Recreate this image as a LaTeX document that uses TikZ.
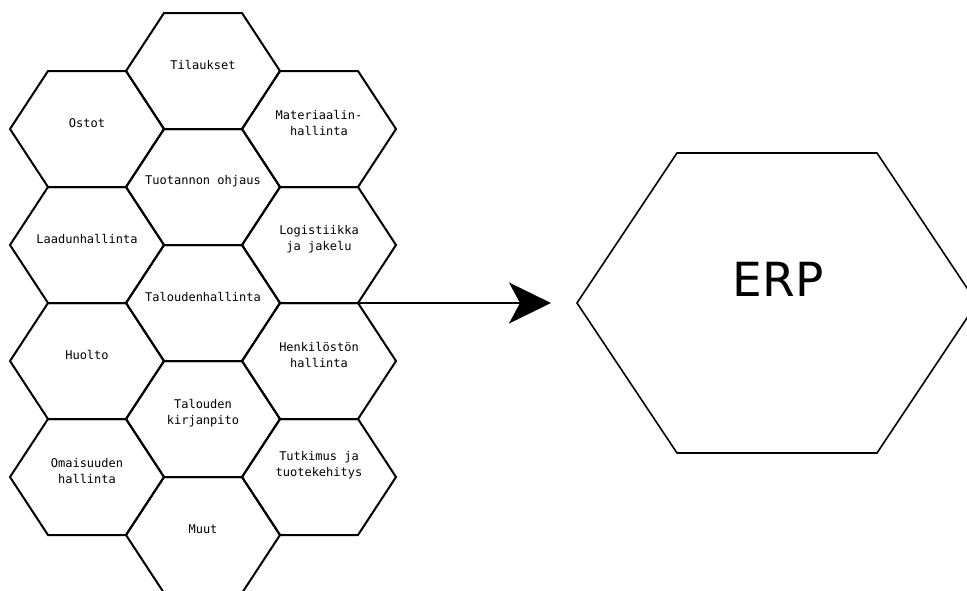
\documentclass[tikz,border=0pt]{standalone}
\usepackage{fontspec}
\newfontfamily\hexfont{DejaVu Sans Mono}
\newfontfamily\erpfont{DejaVu Sans}
\usetikzlibrary{arrows.meta}

\tikzset{
  hexa/.style={black, line width=2pt, line join=miter},
  hexlabel/.style={font=\hexfont\fontsize{12}{15.5}\selectfont, align=center},
  erpline/.style={black, line width=1.6pt, line join=miter},
  erplabel/.style={font=\erpfont\fontsize{47}{50}\selectfont},
  flow/.style={black, line width=1.6pt, -{Stealth[length=42pt,width=41pt,inset=11pt]}, shorten >=26pt},
}

% one cell of the honeycomb: [text lift] name, x, y, label
\newcommand{\hexcell}[5][6]{%
  \draw [hexa] (#3,#4) +(-77,0) -- +(-39,-58) -- +(39,-58) -- +(77,0)
    -- +(39,58) coordinate (#2-se) -- +(-39,58) -- cycle;
  \node [hexlabel] (#2) at (#3,#4-#1) {#5};
}

\begin{document}
\begin{tikzpicture}[x=1pt,y=-1pt]
\tikzstyle{every node}+=[inner sep=0pt]
\clip (0,0) rectangle (967,590);
% left column
\hexcell{ostot}{87}{129}{Ostot}
\hexcell{laatu}{87}{245}{Laadunhallinta}
\hexcell{huolto}{87}{361}{Huolto}
\hexcell{omaisuus}{87}{477}{Omaisuuden\\hallinta}
% middle column
\hexcell{tilaukset}{203}{71}{Tilaukset}
\hexcell{tuotanto}{203}{187}{Tuotannon ohjaus}
\hexcell{talous}{203}{303}{Taloudenhallinta}
\hexcell{kirjanpito}{203}{419}{Talouden\\kirjanpito}
\hexcell{muut}{203}{535}{Muut}
% right column
\hexcell{materiaali}{319}{129}{Materiaalin-\\hallinta}
\hexcell{logistiikka}{319}{245}{Logistiikka\\ja jakelu}
\hexcell{henkilosto}{319}{361}{Henkilöstön\\hallinta}
\hexcell[12]{tutkimus}{319}{477}{Tutkimus ja\\tuotekehitys}
% ERP
\draw [erpline] (777,303) +(-200,0) coordinate (erp-w) -- +(-100,-150) -- +(100,-150)
  -- +(200,0) -- +(100,150) -- +(-100,150) -- cycle;
\node [erplabel] (erp) at (778,279) {ERP};
\draw [flow] (logistiikka-se) -- (erp-w);
\end{tikzpicture}
\end{document}
